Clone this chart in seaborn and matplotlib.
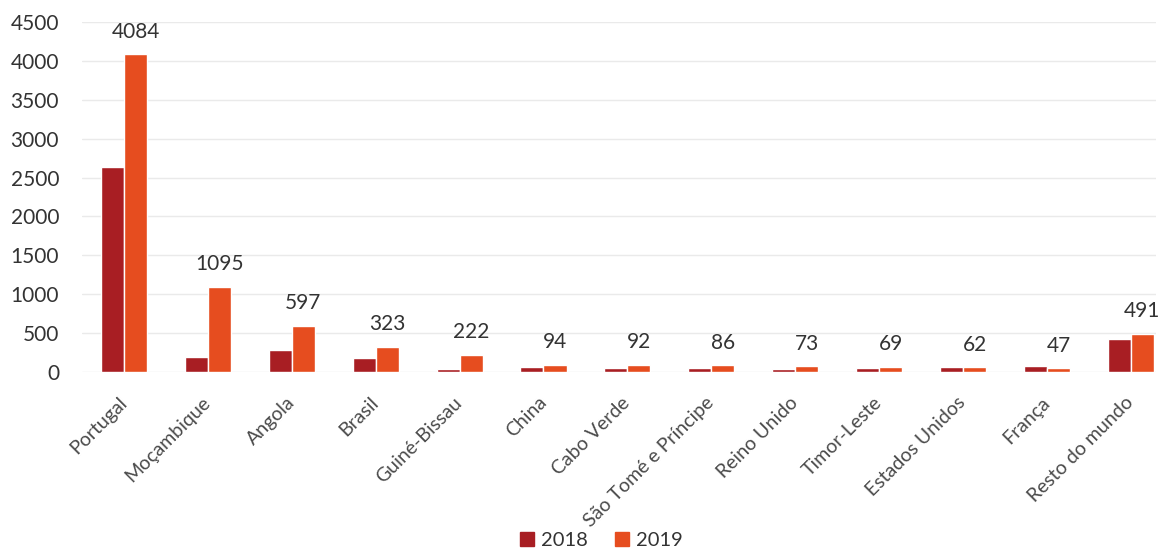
import matplotlib
matplotlib.use("Agg")
import matplotlib.pyplot as plt
import seaborn as sns
import pandas as pd
from matplotlib.patches import Patch

countries = ["Portugal", "Moçambique", "Angola", "Brasil", "Guiné-Bissau", "China",
             "Cabo Verde", "São Tomé e Príncipe", "Reino Unido", "Timor-Leste",
             "Estados Unidos", "França", "Resto do mundo"]
values_2018 = [2630, 195, 285, 185, 40, 60, 55, 55, 35, 55, 65, 75, 425]
values_2019 = [4084, 1095, 597, 323, 222, 94, 92, 86, 73, 69, 62, 47, 491]
years = ["2018", "2019"]
colors = ["#A81E23", "#E64D1F"]

df = pd.DataFrame({
    "country": countries * 2,
    "year": [years[0]] * len(countries) + [years[1]] * len(countries),
    "value": values_2018 + values_2019,
})

sns.set_theme(style="white")
plt.rcParams["font.family"] = ["Lato", "DejaVu Sans"]

fig = plt.figure(figsize=(11.61, 5.51), dpi=100)
ax = fig.add_axes([82 / 1161, 179 / 551, 1074 / 1161, 350 / 551])

sns.barplot(data=df, x="country", y="value", hue="year", palette=colors,
            width=0.55, saturation=1, ax=ax, legend=False)

ax.set_ylim(0, 4500)
ax.set_xlim(-0.5, 12.3)
ax.set_yticks(range(0, 4501, 500))
ax.yaxis.grid(True, color="#EAEAEA", linewidth=1)
ax.set_axisbelow(True)
for s in ax.spines.values():
    s.set_visible(False)
ax.set_xlabel("")
ax.set_ylabel("")
ax.tick_params(axis="y", labelsize=15, labelcolor="#333333", length=0, pad=16.5)
ax.tick_params(axis="x", labelsize=14, labelcolor="#4A4A4A", length=0, pad=20)
plt.setp(ax.get_xticklabels(), rotation=45, ha="right", va="center",
         rotation_mode="anchor")

# labels on 2019 bars
bars19 = ax.containers[1]
for bar, v in zip(bars19, values_2019):
    ax.annotate(str(v), (bar.get_x() + bar.get_width() / 2, bar.get_height()),
                xytext=(0, 9), textcoords="offset points", ha="center", va="bottom",
                fontsize=15, color="#333333")

handles = [Patch(facecolor=c, edgecolor=c) for c in colors]
fig.legend(handles, years, loc="lower center", bbox_to_anchor=(0.518, -0.03), ncol=2,
           frameon=False, fontsize=14.5, handlelength=0.7, handleheight=0.7,
           handletextpad=0.35, columnspacing=1.3, labelcolor="#333333")

fig.savefig("out.png", dpi=100, facecolor="white")
